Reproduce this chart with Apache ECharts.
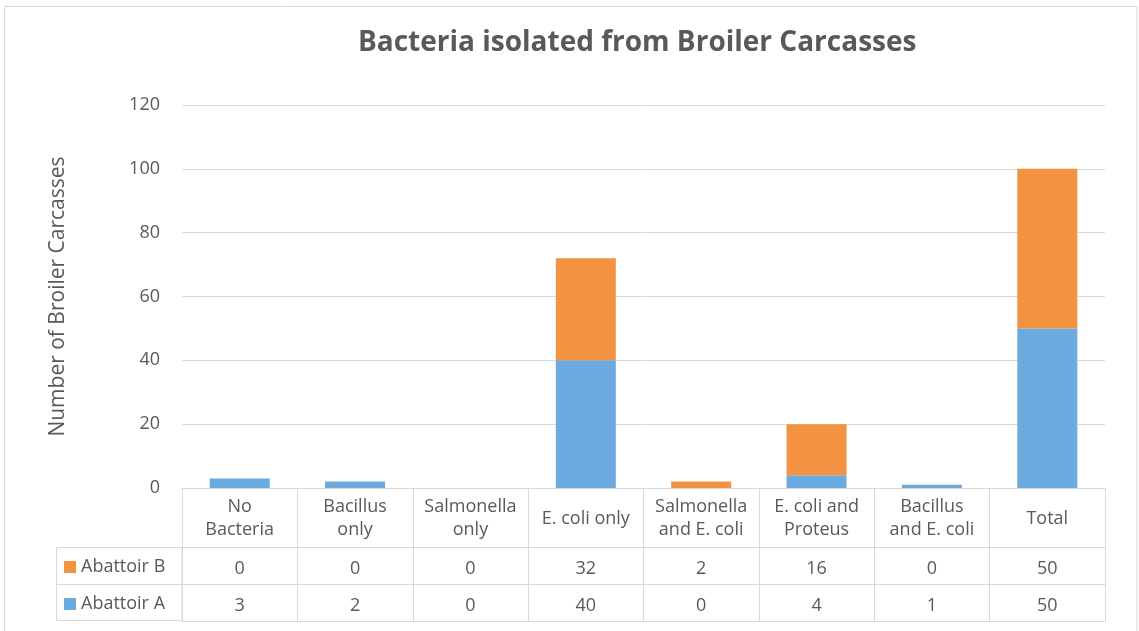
<!DOCTYPE html>
<html>
<head>
<meta charset="utf-8">
<script src="https://cdn.jsdelivr.net/npm/echarts@6/dist/echarts.min.js"></script>
<style>html,body{margin:0;padding:0;background:#fff}#c{width:1139px;height:631px}</style>
</head>
<body>
<div id="c"></div>
<script>
const titleText = 'Bacteria isolated from Broiler Carcasses';
const yAxisName = 'Number of Broiler Carcasses';
const categories = ['No\nBacteria', 'Bacillus\nonly', 'Salmonella\nonly', 'E. coli only', 'Salmonella\nand E. coli', 'E. coli and\nProteus', 'Bacillus\nand E. coli', 'Total'];
const seriesNames = ['Abattoir A', 'Abattoir B'];
const abattoirA = [3, 2, 0, 40, 0, 4, 1, 50];
const abattoirB = [0, 0, 0, 32, 2, 16, 0, 50];
const yTicks = { min: 0, max: 120, interval: 20 };

const FONT = '"Open Sans", sans-serif';
const TXT = '#595959';
const LINE = '#d9d9d9';
const BLUE = '#6AAADE';
const ORANGE = '#F39240';

const chart = echarts.init(document.getElementById('c'));
const baseAxis = {
  type: 'category', gridIndex: 0, position: 'bottom', data: categories,
  axisLine: { show: true, lineStyle: { color: LINE, width: 1 } },
  axisTick: { show: false },
  splitLine: { show: false }
};
chart.setOption({
  animation: false,
  backgroundColor: '#fff',
  textStyle: { fontFamily: FONT },
  title: {
    text: titleText, left: 353, top: 24,
    textStyle: { fontFamily: FONT, fontSize: 28, fontWeight: 'bold', color: TXT }
  },
  legend: {
    data: ['Abattoir B', 'Abattoir A'], orient: 'vertical', left: 64, top: 557, padding: 0,
    icon: 'rect', itemWidth: 12, itemHeight: 12, itemGap: 17,
    textStyle: { fontFamily: FONT, fontSize: 18, color: TXT, lineHeight: 20 }
  },
  grid: { left: 182, right: 34, top: 105, bottom: 143, containLabel: false, outerBoundsMode: 'none' },
  xAxis: [
    Object.assign({}, baseAxis, {
      axisTick: { show: true, length: 133, lineStyle: { color: LINE, width: 1 } },
      axisLabel: { fontFamily: FONT, fontSize: 18, color: TXT, lineHeight: 23, margin: 30.5, verticalAlign: 'middle', interval: 0, align: 'center' }
    }),
    Object.assign({}, baseAxis, {
      offset: 59,
      axisLabel: { fontFamily: FONT, fontSize: 18, color: TXT, margin: 21.5, verticalAlign: 'middle', interval: 0,
        formatter: (v, i) => String(abattoirB[i]) }
    }),
    Object.assign({}, baseAxis, {
      offset: 96,
      axisLabel: { fontFamily: FONT, fontSize: 18, color: TXT, margin: 21.5, verticalAlign: 'middle', interval: 0,
        formatter: (v, i) => String(abattoirA[i]) }
    }),
    Object.assign({}, baseAxis, { offset: 133, axisLabel: { show: false } })
  ],
  yAxis: {
    type: 'value', min: yTicks.min, max: yTicks.max, interval: yTicks.interval,
    name: yAxisName, nameLocation: 'middle', nameRotate: 90, nameGap: 113,
    nameTextStyle: { fontFamily: FONT, fontSize: 21, color: TXT },
    axisLine: { show: false }, axisTick: { show: false },
    axisLabel: { fontFamily: FONT, fontSize: 18, color: TXT, margin: 22 },
    splitLine: { lineStyle: { color: LINE, width: 1 } }
  },
  series: [
    { name: seriesNames[0], type: 'bar', stack: 'total', xAxisIndex: 0, data: abattoirA, barWidth: '52%', itemStyle: { color: BLUE } },
    { name: seriesNames[1], type: 'bar', stack: 'total', xAxisIndex: 0, data: abattoirB, barWidth: '52%', itemStyle: { color: ORANGE } }
  ],
  graphic: [
    { type: 'rect', silent: true, shape: { x: 4.5, y: 6.5, width: 1132.5, height: 640 }, style: { fill: null, stroke: LINE, lineWidth: 1 } },
    { type: 'rect', silent: true, shape: { x: 56.5, y: 547.5, width: 125.5, height: 73 }, style: { fill: null, stroke: LINE, lineWidth: 1 } },
    { type: 'line', silent: true, shape: { x1: 56.5, y1: 584.5, x2: 182, y2: 584.5 }, style: { stroke: LINE, lineWidth: 1 } }
  ]
});
</script>
</body>
</html>
